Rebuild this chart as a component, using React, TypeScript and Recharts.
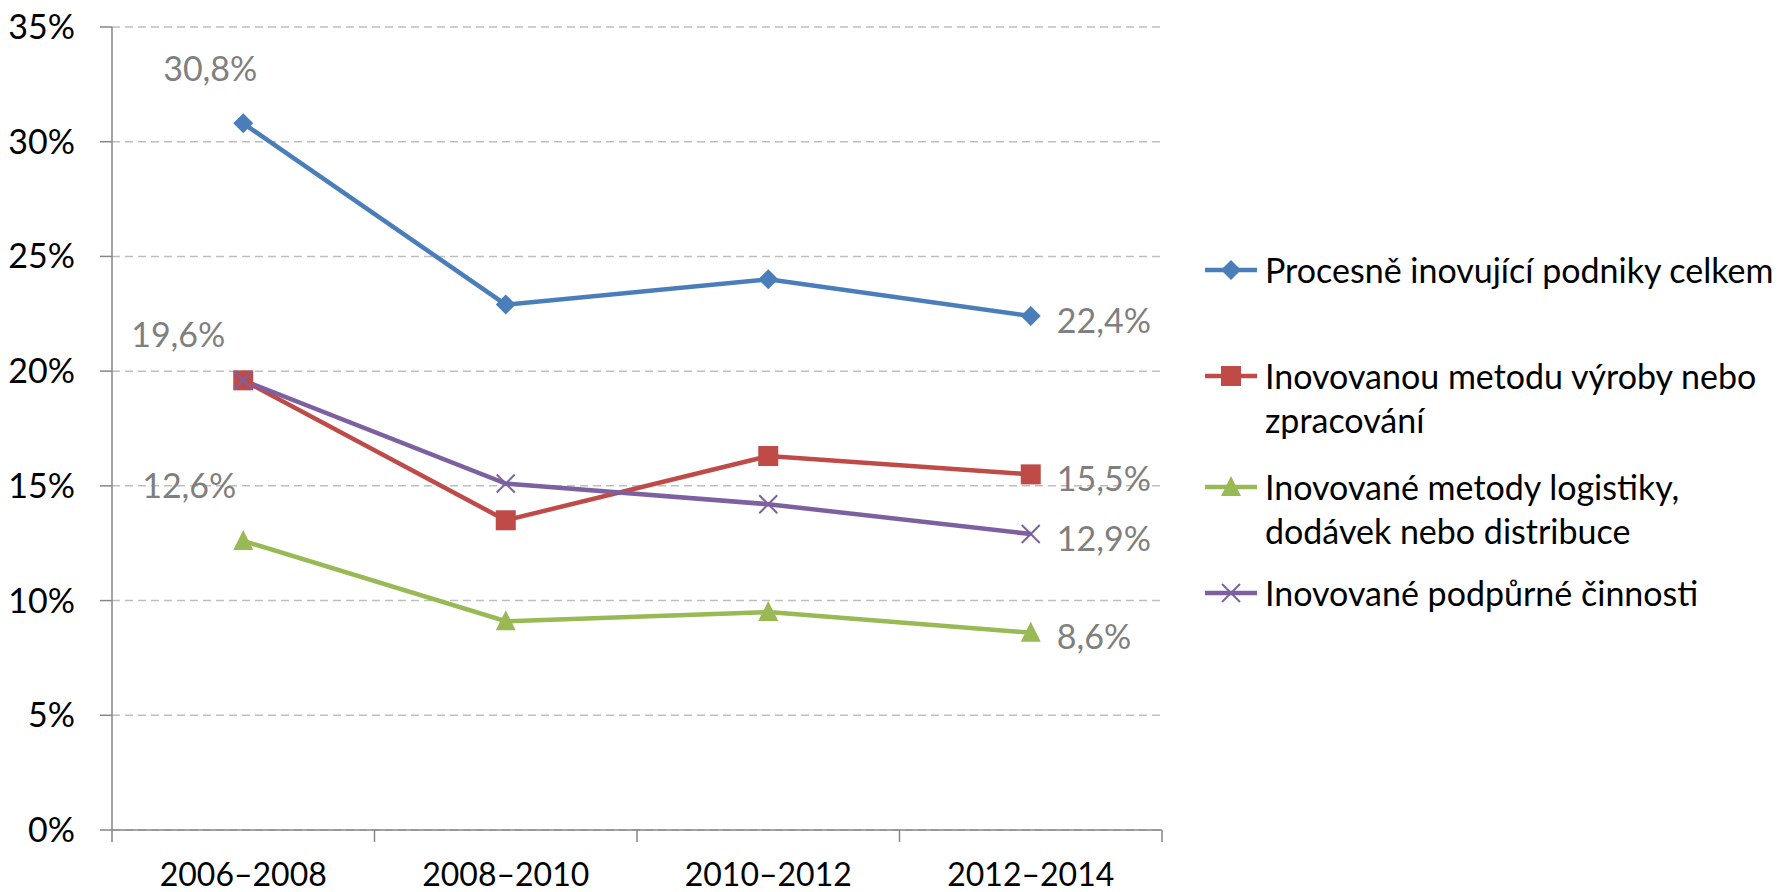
import React from 'react';
import {
  LineChart,
  Line,
  XAxis,
  YAxis,
  CartesianGrid,
  Legend,
  LabelList
} from 'recharts';

const categories = ['2006–2008', '2008–2010', '2010–2012', '2012–2014'];
const totalValues = [30.8, 22.9, 24.0, 22.4];
const productionValues = [19.6, 13.5, 16.3, 15.5];
const logisticsValues = [12.6, 9.1, 9.5, 8.6];
const supportValues = [19.6, 15.1, 14.2, 12.9];
const yTicks = [0, 5, 10, 15, 20, 25, 30, 35];

const FONT = 'Lato, "Open Sans", sans-serif';
const FS = 34;
const AXIS = '#868686';
const LABEL = '#7F7F7F';

type Shape = 'diamond' | 'square' | 'triangle' | 'cross';

interface SeriesDef {
  key: string;
  name: string;
  color: string;
  shape: Shape;
  labelFirst: boolean;
  firstDx: number;
  firstDy: number;
}

const series: SeriesDef[] = [
  { key: 'total', name: 'Procesně inovující podniky celkem', color: '#4A7EBB', shape: 'diamond', labelFirst: true, firstDx: -33, firstDy: -56 },
  { key: 'production', name: 'Inovovanou metodu výroby nebo\nzpracování', color: '#BE4B48', shape: 'square', labelFirst: true, firstDx: -65, firstDy: -47 },
  { key: 'logistics', name: 'Inovované metody logistiky,\ndodávek nebo distribuce', color: '#98B954', shape: 'triangle', labelFirst: true, firstDx: -54, firstDy: -56 },
  { key: 'support', name: 'Inovované podpůrné činnosti', color: '#7D60A0', shape: 'cross', labelFirst: false, firstDx: 0, firstDy: 0 }
];

const data = categories.map((category, i) => ({
  pos: i + 0.5,
  category,
  total: totalValues[i],
  production: productionValues[i],
  logistics: logisticsValues[i],
  support: supportValues[i]
}));

const xTicks = [...categories.flatMap((_, i) => [i, i + 0.5]), categories.length];

const Marker = ({ cx, cy, shape, color }: { cx: number; cy: number; shape: Shape; color: string }) => {
  if (shape === 'diamond') {
    const r = 10;
    return <polygon points={`${cx},${cy - r} ${cx + r},${cy} ${cx},${cy + r} ${cx - r},${cy}`} fill={color} />;
  }
  if (shape === 'square') {
    return <rect x={cx - 10} y={cy - 10} width={20} height={20} fill={color} />;
  }
  if (shape === 'triangle') {
    return <polygon points={`${cx},${cy - 11} ${cx + 10},${cy + 9} ${cx - 10},${cy + 9}`} fill={color} />;
  }
  return (
    <g stroke={color} strokeWidth={2}>
      <line x1={cx - 9} y1={cy - 9} x2={cx + 9} y2={cy + 9} />
      <line x1={cx - 9} y1={cy + 9} x2={cx + 9} y2={cy - 9} />
    </g>
  );
};

const XTick = ({ x, y, payload }: any) => {
  const v = payload.value;
  if (Number.isInteger(v)) {
    return <line x1={x} x2={x} y1={y} y2={y + 12} stroke={AXIS} strokeWidth={1.5} />;
  }
  return (
    <text x={x} y={y + 43} textAnchor="middle" dominantBaseline="central" fill="#000" fontSize={32} fontFamily={FONT}>
      {categories[Math.floor(v)]}
    </text>
  );
};

const LegendContent = () => {
  const tops = [248, 354, 465, 571];
  return (
    <div style={{ position: 'relative', width: 1787, height: 892 }}>
      {series.map((s, i) => (
        <div key={s.key} style={{ position: 'absolute', left: 1205, top: tops[i], display: 'flex', alignItems: 'flex-start' }}>
          <svg width={56} height={44} style={{ flex: 'none' }}>
            <line x1={0} x2={52} y1={22} y2={22} stroke={s.color} strokeWidth={4.5} />
            <Marker cx={26} cy={22} shape={s.shape} color={s.color} />
          </svg>
          <div style={{ marginLeft: 4, fontFamily: FONT, fontSize: FS, lineHeight: '44px', color: '#000', whiteSpace: 'pre' }}>
            {s.name}
          </div>
        </div>
      ))}
    </div>
  );
};

const makeLabel = (s: SeriesDef) => (props: any) => {
  const { x, y, value, index } = props;
  const text = `${String(value).replace('.', ',')}%`;
  const common = { fill: LABEL, fontSize: FS, fontFamily: FONT, dominantBaseline: 'central' as const };
  if (index === 0 && s.labelFirst) {
    return <text key={`l-${index}`} x={x + s.firstDx} y={y + s.firstDy} textAnchor="middle" {...common}>{text}</text>;
  }
  if (index === categories.length - 1) {
    return <text key={`l-${index}`} x={x + 26} y={y + 3} textAnchor="start" {...common}>{text}</text>;
  }
  return null;
};

export default function App() {
  return (
    <div style={{ position: 'absolute', left: 0, top: 0, background: '#fff' }}>
      <LineChart width={1787} height={892} data={data} margin={{ top: 27, right: 625, bottom: 0, left: 12 }}>
        <CartesianGrid vertical={false} stroke="#BEBEBE" strokeDasharray="8 5" strokeWidth={1.5} />
        <XAxis
          dataKey="pos"
          type="number"
          domain={[0, categories.length]}
          ticks={xTicks}
          interval={0}
          tick={<XTick />}
          tickLine={false}
          tickSize={0}
          tickMargin={0}
          axisLine={{ stroke: AXIS, strokeWidth: 1.5 }}
          height={62}
        />
        <YAxis
          domain={[0, 35]}
          ticks={yTicks}
          interval={0}
          width={100}
          tickSize={12}
          tickMargin={25}
          tickFormatter={(v: number) => `${v}%`}
          tickLine={{ stroke: AXIS, strokeWidth: 1.5 }}
          axisLine={{ stroke: AXIS, strokeWidth: 1.5 }}
          tick={{ fill: '#000', fontSize: FS, fontFamily: FONT }}
        />
        <Legend
          layout="vertical"
          align="center"
          verticalAlign="middle"
          content={<LegendContent />}
          wrapperStyle={{ left: 0, top: 0, width: 1787, height: 892 }}
        />
        {series.map((s) => (
          <Line
            key={s.key}
            dataKey={s.key}
            name={s.name}
            stroke={s.color}
            strokeWidth={4.5}
            isAnimationActive={false}
            dot={(p: any) => <Marker key={`${s.key}-${p.index}`} cx={p.cx} cy={p.cy} shape={s.shape} color={s.color} />}
            activeDot={false}
          >
            <LabelList dataKey={s.key} content={makeLabel(s)} />
          </Line>
        ))}
      </LineChart>
    </div>
  );
}
